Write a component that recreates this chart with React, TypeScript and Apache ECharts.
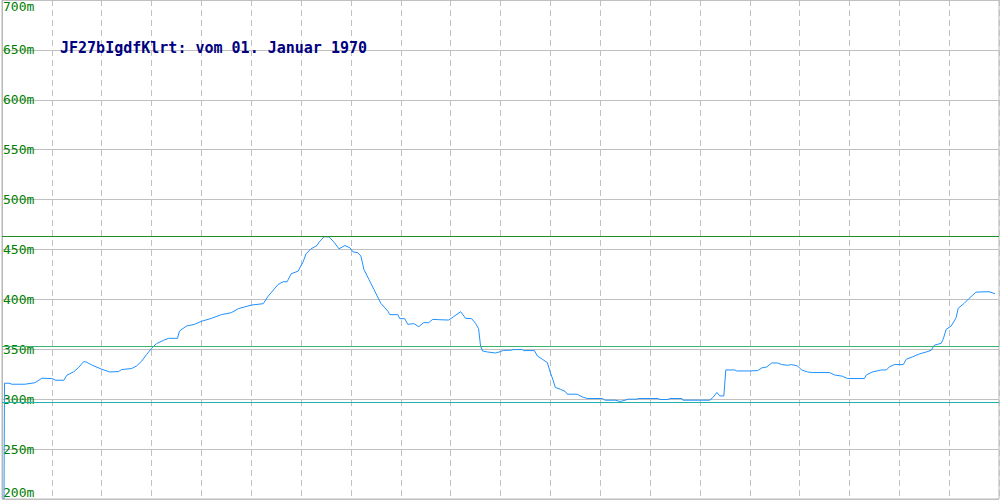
import React, { useEffect, useRef } from "react";
import * as echarts from "echarts";

const titleText = "JF27bIgdfKlrt: vom 01. Januar 1970";
const yTicks = { min: 200, max: 700, interval: 50 };

// position along the track (0..1000) and altitude in metres
const distance = [
  2, 2.5, 7, 10, 23, 33, 40, 50, 54, 62, 65, 72, 77, 82, 85, 90, 100, 108, 117, 120,
  130, 135, 140, 145, 150, 155, 162, 167, 176, 178, 185, 193, 200, 210, 220, 230, 237, 250,
  262, 267, 277, 282, 286, 290, 297, 302, 305, 310, 316, 318, 323, 328, 333, 338, 344,
  349, 352, 357, 360, 363, 368, 373, 380, 387, 389, 397, 399, 404, 407, 413, 418, 423,
  428, 432, 438, 448, 453, 460, 465, 471, 475, 478, 480, 482, 487, 495, 500,
  503, 510, 513, 522, 523, 534, 537, 542, 547, 550, 553, 555, 560, 565, 567, 577, 582,
  587, 602, 605, 615, 620, 625, 628, 637, 638, 658, 660, 668, 670, 682, 683, 710, 713,
  717, 720, 724, 726, 735, 737, 750,
  758, 762, 767, 772, 778, 782, 788, 792, 798, 802, 808, 813, 830, 835, 843, 848, 865,
  867, 873, 882, 887, 890, 895, 904, 907, 913, 920, 927, 932, 935, 942, 944, 947, 952,
  955, 957, 959, 965, 970, 977, 990, 996,
];
const altitude = [
  200, 316, 316, 315, 315, 316.5, 321, 320.7, 319, 319, 324, 327.5, 332, 337.7, 337, 334.3, 330, 327.3, 327.7, 329.7,
  330.7, 333.3, 338, 344.7, 351, 355.7, 359, 361, 361, 368.3, 373.3, 375, 378, 381, 384.7, 386.7, 390.7, 394.3,
  395.7, 403.3, 415, 417.7, 417.7, 425.7, 428.3, 437.7, 445.7, 450.7, 454, 457.3, 462.7, 462.7, 457.3, 450.7, 454,
  451.7, 447.7, 446.7, 443.3, 430, 420, 410, 396, 388.3, 384.7, 384.7, 380.7, 380.7, 375, 375.7, 372.7, 376.7,
  376.7, 380, 379.7, 379.3, 382.7, 387.7, 381, 380.7, 376, 370.7, 353.3, 348.3, 347.3, 346.3, 347.7,
  349, 349, 349.7, 349.7, 348.7, 348.7, 343.3, 340, 336.7, 326.7, 318.3, 311.7, 310, 307.7, 305, 305, 302.3,
  300.7, 300.7, 299, 299, 297.7, 299, 300, 300, 300.7, 300.7, 299.7, 299.7, 300.7, 300.7, 299, 299, 301.7,
  306.7, 303.3, 303.3, 329.3, 329.3, 328.3, 328.3,
  328.7, 331.3, 332.3, 336.3, 336.3, 334.7, 334, 334.7, 333.3, 329.3, 327.3, 326.7, 326.7, 324.3, 323, 320.7, 320.7,
  324.3, 327.3, 329.3, 329.3, 332.3, 334.7, 334.7, 340, 342.3, 345.3, 347.3, 349, 354, 356, 360, 370, 373.3,
  378.3, 381.7, 391, 396, 401, 407.3, 407.7, 405.7,
];
// maximum, average and minimum reference lines
const refMax = 463;
const refAvg = 353;
const refMin = 297;

export default function App() {
  const ref = useRef<HTMLDivElement>(null);
  useEffect(() => {
    document.body.style.margin = "0";
    if (!ref.current) return;
    const chart = echarts.init(ref.current, null, { renderer: "svg" });
    const data = distance.map((d, i) => [d, altitude[i]]);
    chart.setOption({
      animation: false,
      backgroundColor: "#ffffff",
      grid: {
        left: 1,
        right: 1,
        top: 0,
        bottom: 1,
        show: true,
        borderColor: "#b8b8b8",
        borderWidth: 1,
      },
      graphic: [
        {
          type: "text",
          left: 60,
          top: 40,
          style: {
            text: titleText,
            fill: "#000080",
            font: "bold 15px 'DejaVu Sans Mono', monospace",
          },
          z: 10,
        },
      ],
      xAxis: {
        type: "value",
        min: 0,
        max: 1000,
        interval: 50,
        axisLine: { show: false },
        axisTick: { show: false },
        axisLabel: { show: false },
        splitLine: {
          show: true,
          lineStyle: { color: "#c0c0c0", type: [6, 4], width: 1 },
        },
      },
      yAxis: {
        type: "value",
        min: yTicks.min,
        max: yTicks.max,
        interval: yTicks.interval,
        axisLine: { show: true, lineStyle: { color: "#b8b8b8" } },
        axisTick: { show: false },
        axisLabel: {
          inside: true,
          margin: 1,
          formatter: "{value}m",
          color: "#008000",
          fontFamily: "'DejaVu Sans Mono', monospace",
          fontSize: 13,
          verticalAlign: "middle",
          verticalAlignMinLabel: "bottom",
          verticalAlignMaxLabel: "top",
        },
        splitLine: { show: true, lineStyle: { color: "#c0c0c0", width: 1 } },
      },
      series: [
        {
          type: "line",
          data,
          showSymbol: false,
          symbol: "none",
          lineStyle: { color: "#1e90ff", width: 1 },
          markLine: {
            silent: true,
            symbol: "none",
            label: { show: false },
            data: [
              { yAxis: refMax, lineStyle: { color: "#228b22", type: "solid", width: 1 } },
              { yAxis: refAvg, lineStyle: { color: "#3cb371", type: "solid", width: 1 } },
              { yAxis: refMin, lineStyle: { color: "#20b2aa", type: "solid", width: 1 } },
            ],
          },
        },
      ],
    });
    return () => chart.dispose();
  }, []);
  return (
    <div
      ref={ref}
      style={{ position: "absolute", left: 0, top: 0, width: 1000, height: 500 }}
    />
  );
}
